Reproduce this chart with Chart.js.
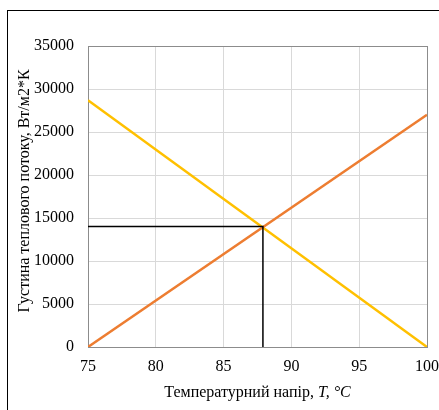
<!DOCTYPE html>
<html>
<head>
<meta charset="utf-8">
<script src="https://cdn.jsdelivr.net/npm/chart.js@4"></script>
<style>
  body { margin: 0; background: #fff; }
  #wrap { position: relative; width: 439px; height: 410px; overflow: hidden; }
  #frame { position: absolute; left: 7px; top: 10px; width: 500px; height: 500px; border: 1px solid #000; box-sizing: border-box; pointer-events: none; }
</style>
</head>
<body>
<div id="wrap">
  <canvas id="myChart" width="439" height="410"></canvas>
  <div id="frame"></div>
</div>
<script>
// values
const temps = [75, 100];
const risingFlux = [0, 27000];
const fallingFlux = [28700, 0];
const markTemps = [75, 87.9, 87.9];
const markFlux = [14000, 14000, 0];
const xTicks = [75, 80, 85, 90, 95, 100];
const yTicks = [0, 5000, 10000, 15000, 20000, 25000, 30000, 35000];

const serif = "'Liberation Serif', 'Times New Roman', serif";
const toPoints = (xs, ys) => xs.map((x, i) => ({ x: x, y: ys[i] }));

//# axis titles drawn by hand (the x one has an italic part)
const titlesPlugin = {
  id: "axisTitles",
  afterDraw(chart) {
    const ctx = chart.ctx;
    const plain = "Температурний напір, ";
    const italic = "T, °C";
    ctx.save();
    ctx.fillStyle = "#000";
    ctx.textBaseline = "alphabetic";
    ctx.font = "16px " + serif;
    const w1 = ctx.measureText(plain).width;
    ctx.font = "italic 16px " + serif;
    const w2 = ctx.measureText(italic).width;
    const cx = (chart.chartArea.left + chart.chartArea.right) / 2;
    let x = cx - (w1 + w2) / 2;
    ctx.font = "16px " + serif;
    ctx.fillText(plain, x, 397);
    ctx.font = "italic 16px " + serif;
    ctx.fillText(italic, x + w1, 397);

    // y title, rotated
    ctx.translate(29, 191);
    ctx.rotate(-Math.PI / 2);
    ctx.textAlign = "center";
    ctx.font = "16px " + serif;
    ctx.fillText("Густина теплового потоку, Вт/м2*К", 0, 0);
    ctx.restore();
  },
};

const config = {
  type: "scatter",
  data: {
    datasets: [
      {
        label: "mark",
        data: toPoints(markTemps, markFlux),
        showLine: true,
        borderColor: "#000",
        borderWidth: 1.5,
        pointRadius: 0,
      },
      {
        label: "rising",
        data: toPoints(temps, risingFlux),
        showLine: true,
        borderColor: "#ED7D31",
        borderWidth: 2.5,
        pointRadius: 0,
      },
      {
        label: "falling",
        data: toPoints(temps, fallingFlux),
        showLine: true,
        borderColor: "#FFC000",
        borderWidth: 2.5,
        pointRadius: 0,
      },
    ],
  },
  options: {
    responsive: false,
    animation: false,
    layout: { padding: { left: 0, top: 46, right: 12, bottom: 0 } },
    plugins: {
      legend: { display: false },
      tooltip: { enabled: false },
    },
    scales: {
      x: {
        type: "linear",
        min: 75,
        max: 100,
        afterBuildTicks: (axis) => {
          axis.ticks = xTicks.map((v) => ({ value: v }));
        },
        afterFit: (axis) => {
          axis.height = 63;
          axis.paddingRight = 0;
          axis.paddingLeft = 0;
        },
        grid: {
          drawTicks: false,
          color: (c) => (c.tick && c.tick.value === 100 ? "#8c8c8c" : "#d9d9d9"),
          lineWidth: 1,
        },
        border: { color: "#8c8c8c" },
        ticks: {
          color: "#000",
          padding: 10,
          font: { family: serif, size: 16 },
        },
      },
      y: {
        min: 0,
        max: 35000,
        afterBuildTicks: (axis) => {
          axis.ticks = yTicks.map((v) => ({ value: v }));
        },
        afterFit: (axis) => {
          axis.width = 88;
        },
        grid: {
          drawTicks: false,
          color: (c) => (c.tick && c.tick.value === 35000 ? "#8c8c8c" : "#d9d9d9"),
          lineWidth: 1,
        },
        border: { color: "#8c8c8c" },
        ticks: {
          color: "#000",
          padding: 14,
          font: { family: serif, size: 16 },
          callback: (v) => String(v),
        },
      },
    },
  },
  plugins: [titlesPlugin],
};

const ctx = document.getElementById("myChart").getContext("2d");
new Chart(ctx, config);
</script>
</body>
</html>
